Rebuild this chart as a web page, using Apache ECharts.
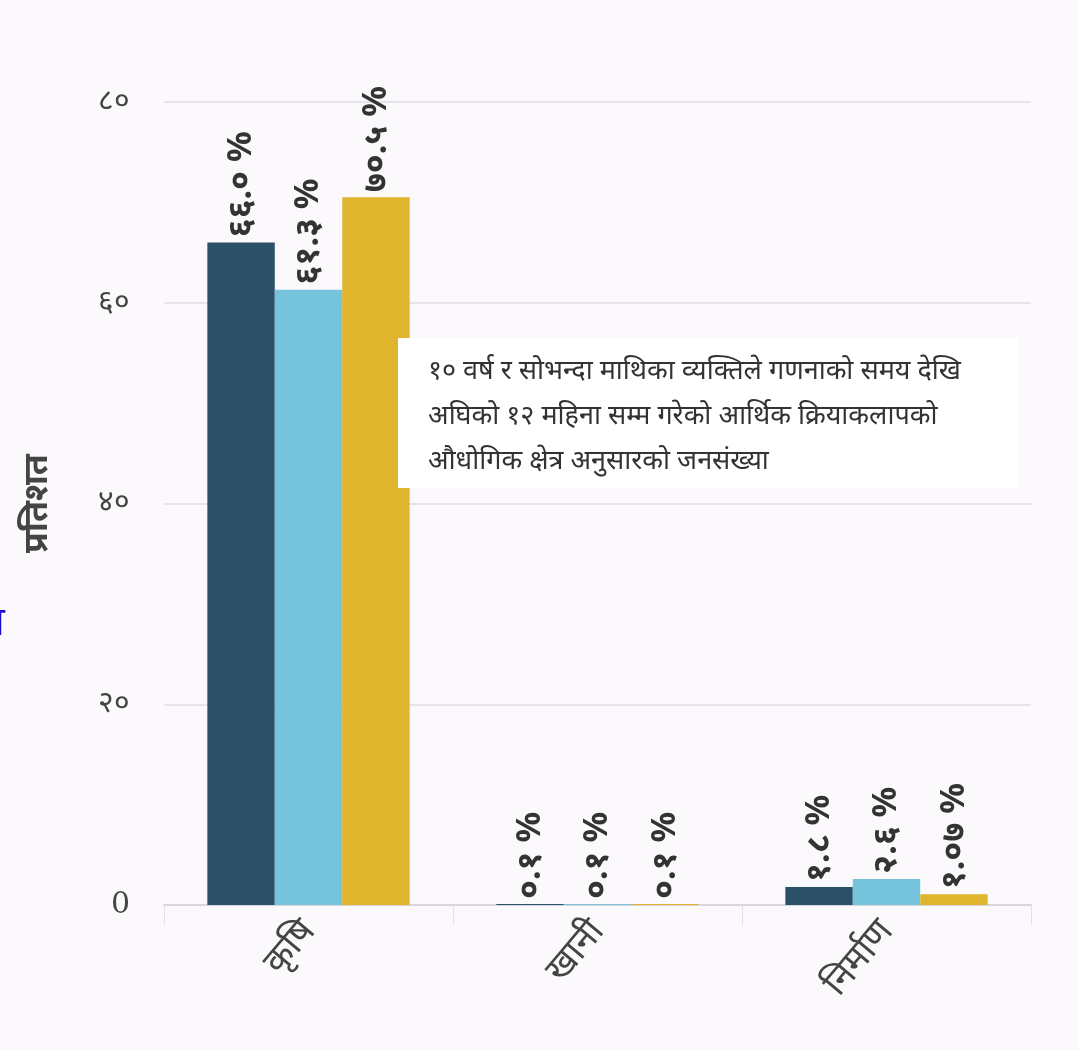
<!DOCTYPE html>
<html><head><meta charset="utf-8">
<style>html,body{margin:0;padding:0;background:#fcf9fd;}#c{width:1078px;height:1050px;}</style>
<script src="https://cdn.jsdelivr.net/npm/echarts@6/dist/echarts.min.js"></script>
</head><body><div id="c"></div>
<script>
const categories = ['कृषि', 'खानी', 'निर्माण'];
const seriesA = [66.0, 0.1, 1.8];
const seriesB = [61.3, 0.1, 2.6];
const seriesC = [70.5, 0.1, 1.07];
const labelsA = ['६६.० %', '०.१ %', '१.८ %'];
const labelsB = ['६१.३ %', '०.१ %', '२.६ %'];
const labelsC = ['७०.५ %', '०.१ %', '१.०७ %'];
const yTickLabels = {0: '0', 20: '२०', 40: '४०', 60: '६०', 80: '८०'};
const yName = 'प्रतिशत';
const noteLines = ['१० वर्ष र सोभन्दा माथिका व्यक्तिले गणनाको समय देखि', 'अघिको १२ महिना सम्म गरेको आर्थिक क्रियाकलापको', 'औधोगिक क्षेत्र अनुसारको जनसंख्या'];
const colors = ['#2d5069', '#76c3dc', '#e0b52e'];

const chart = echarts.init(document.getElementById('c'));
function mk(data, labels, color) {
  return {
    type: 'bar', data: data, barGap: '0%', barCategoryGap: '30%',
    itemStyle: {color: color},
    label: {
      show: true, position: 'top', rotate: 90, align: 'left', verticalAlign: 'middle',
      distance: 5, color: '#333', fontSize: 34, fontWeight: 'bold', fontFamily: 'Noto Sans, sans-serif',
      formatter: p => labels[p.dataIndex]
    }
  };
}
chart.setOption({
  backgroundColor: '#fcf9fd',
  animation: false,
  grid: {left: 164, right: 47, top: 102, bottom: 145},
  xAxis: {
    type: 'category', data: categories,
    axisLine: {lineStyle: {color: '#d8d6dc', width: 2}},
    axisTick: {show: true, length: 20, lineStyle: {color: '#e2e0e6'}},
    axisLabel: {rotate: 50, fontSize: 36, color: '#444', margin: 20, fontFamily: 'Noto Sans, sans-serif'}
  },
  yAxis: {
    type: 'value', min: 0, max: 80, interval: 20,
    name: yName, nameLocation: 'middle', nameGap: 110, nameRotate: 90,
    nameTextStyle: {fontSize: 34, color: '#444', fontWeight: 'bold', fontFamily: 'Noto Sans, sans-serif'},
    axisLine: {show: false}, axisTick: {show: false},
    axisLabel: {fontSize: 30, color: '#444', margin: 34, fontFamily: 'DejaVu Serif, serif', formatter: v => yTickLabels[v]},
    splitLine: {lineStyle: {color: '#e6e4ea', width: 2}}
  },
  series: [mk(seriesA, labelsA, colors[0]), mk(seriesB, labelsB, colors[1]), mk(seriesC, labelsC, colors[2])],
  graphic: [
    {type: 'rect', left: 398, top: 338, z: 100, shape: {width: 620, height: 150}, style: {fill: '#ffffff'}},
    {type: 'text', left: 428, top: 349, z: 101, style: {text: noteLines.join('\n'), fontSize: 27, lineHeight: 45, fill: '#333', fontFamily: 'Noto Sans, sans-serif'}},
    {type: 'text', left: -18, top: 604, z: 101, style: {text: 'त', fontSize: 40, fill: '#1a0dcc', fontFamily: 'Noto Sans, sans-serif'}}
  ]
});
</script></body></html>
